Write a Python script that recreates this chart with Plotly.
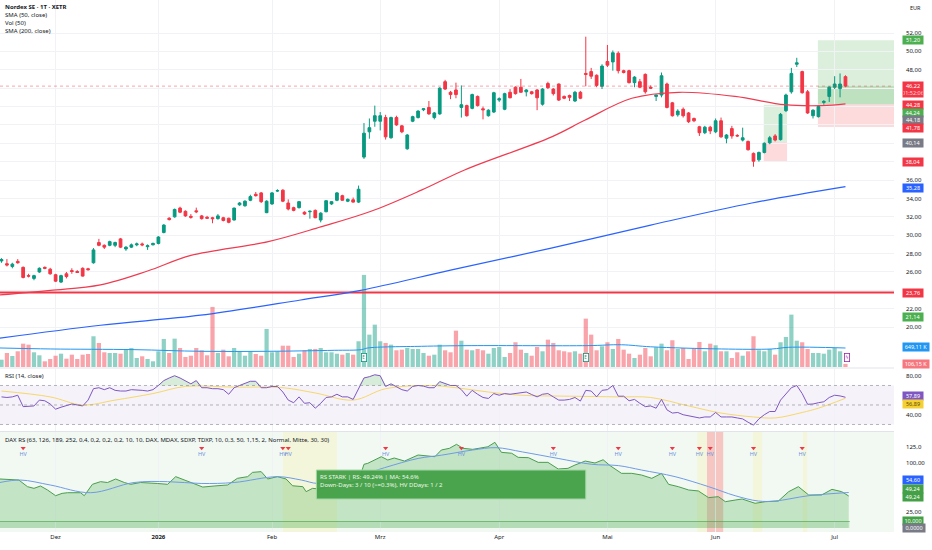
import numpy as np
import pandas as pd
import plotly.graph_objects as go

# ---------------- data ----------------
holidays = ["2025-12-24", "2025-12-25", "2025-12-26", "2025-12-31",
            "2026-01-01", "2026-04-03", "2026-04-06", "2026-05-01"]
dates = [d for d in pd.bdate_range("2025-11-17", "2026-07-03")
         if d.strftime("%Y-%m-%d") not in holidays]

open_ = [27.2, 26.9, 26.6, 27.15, 26.5, 25.6, 25.3, 26.0, 26.5, 26.3,
         25.7, 24.9, 25.8, 26.15, 26.05, 26.4, 26.35, 27.0, 29.2, 28.9,
         28.9, 28.9, 29.6, 28.5, 28.7, 28.95, 29.05, 28.75, 28.95, 29.1,
         30.3, 31.85, 32.0, 32.95, 32.6, 32.05, 32.65, 32.1, 31.95, 31.9,
         31.8, 31.9, 31.85, 31.65, 33.3, 33.2, 33.8, 34.45, 34.6, 32.45,
         33.4, 34.8, 34.9, 33.5, 33.0, 33.0, 32.5, 32.55, 32.7, 31.65,
         32.55, 33.4, 33.8, 34.3, 33.7, 33.85, 33.6, 38.5, 41.25, 42.4,
         42.4, 42.8, 40.6, 42.8, 41.9, 39.4, 42.4, 42.8, 43.65, 43.9,
         42.8, 43.2, 46.7, 45.55, 45.8, 43.9, 44.1, 43.8, 45.1, 43.75,
         43.0, 43.4, 44.7, 43.7, 45.55, 46.1, 46.1, 45.6, 45.6, 45.8,
         44.25, 46.5, 45.9, 46.45, 45.1, 45.2, 44.6, 45.55, 47.6, 47.8,
         47.4, 46.2, 48.9, 48.85, 49.8, 47.9, 47.9, 46.6, 46.7, 47.5,
         46.1, 45.1, 45.25, 46.45, 44.4, 43.1, 43.7, 43.3, 42.7, 41.8,
         41.15, 41.75, 41.25, 42.45, 40.55, 41.6, 40.85, 40.35, 40.2, 38.9,
         38.2, 39.0, 40.05, 40.8, 40.4, 43.55, 45.6, 48.6, 47.8, 45.6,
         43.0, 42.9, 44.45, 45.1, 46.1, 45.95, 47.25]
high = [27.5, 27.4, 27.0, 27.4, 26.6, 25.8, 25.7, 26.5, 26.6, 26.45,
        25.8, 25.7, 26.0, 26.4, 26.2, 26.5, 26.45, 28.6, 29.6, 29.0,
        29.4, 29.3, 29.7, 28.8, 29.1, 29.2, 29.2, 29.0, 29.2, 29.9,
        31.2, 31.95, 32.9, 33.1, 32.7, 32.3, 33.0, 32.2, 32.1, 32.0,
        32.3, 32.0, 31.9, 33.0, 33.6, 33.8, 34.4, 34.7, 34.7, 33.8,
        34.7, 35.0, 35.0, 33.9, 33.1, 33.7, 32.6, 32.7, 32.8, 32.5,
        33.8, 33.7, 34.7, 34.4, 34.0, 34.1, 35.4, 42.2, 42.7, 44.1,
        43.4, 43.1, 42.9, 43.0, 42.0, 41.0, 43.0, 43.6, 43.8, 44.6,
        43.4, 46.1, 46.9, 45.7, 46.6, 46.3, 44.2, 45.4, 45.2, 44.0,
        43.7, 45.6, 45.0, 45.5, 45.9, 46.2, 47.0, 45.9, 45.7, 45.9,
        46.0, 46.7, 46.0, 46.5, 45.2, 45.3, 45.7, 45.7, 51.6, 48.2,
        47.5, 48.6, 50.7, 50.1, 50.0, 48.0, 48.0, 47.3, 47.0, 47.6,
        46.3, 45.3, 47.7, 46.6, 44.5, 43.7, 43.9, 43.4, 42.8, 41.9,
        41.9, 41.9, 42.7, 42.8, 41.0, 41.9, 41.0, 41.7, 40.3, 39.0,
        39.1, 40.1, 40.8, 41.0, 43.3, 45.4, 48.2, 49.3, 47.9, 45.8,
        43.7, 44.1, 44.7, 46.2, 47.3, 47.6, 47.4]
low = [27.0, 26.6, 26.4, 26.9, 25.3, 25.4, 25.1, 25.9, 26.3, 25.7,
       24.9, 24.8, 25.3, 25.8, 25.9, 25.5, 26.15, 26.9, 28.8, 28.5,
       28.8, 28.7, 28.6, 28.3, 28.6, 28.8, 28.8, 28.4, 28.9, 29.0,
       30.2, 31.6, 31.9, 32.4, 32.0, 31.8, 32.4, 31.7, 31.8, 31.3,
       31.7, 31.5, 31.3, 31.6, 33.2, 33.1, 33.7, 34.2, 33.5, 32.4,
       33.3, 34.7, 33.6, 32.7, 32.6, 32.9, 32.2, 31.8, 31.85, 31.4,
       32.5, 33.3, 33.7, 33.75, 33.6, 33.55, 33.5, 38.3, 40.5, 41.8,
       41.4, 40.4, 40.5, 41.9, 41.1, 39.3, 42.3, 42.7, 43.5, 43.1,
       42.6, 43.1, 45.8, 44.8, 44.9, 42.8, 42.9, 43.7, 44.0, 42.6,
       42.9, 43.3, 44.5, 43.6, 44.9, 45.3, 45.5, 45.1, 45.3, 43.6,
       44.1, 45.9, 45.2, 44.6, 44.8, 44.6, 44.5, 44.8, 46.2, 47.0,
       46.1, 45.9, 48.3, 47.9, 47.6, 47.6, 46.5, 46.1, 46.0, 45.4,
       45.9, 44.6, 45.0, 43.8, 42.9, 42.9, 42.8, 42.2, 42.3, 40.8,
       41.0, 41.0, 41.1, 40.6, 40.0, 40.5, 40.7, 40.2, 39.2, 37.45,
       38.0, 38.9, 39.9, 40.2, 40.3, 43.4, 45.4, 48.3, 45.4, 43.2,
       42.7, 42.8, 44.2, 44.5, 45.9, 45.0, 46.1]
close = [27.35, 26.75, 26.85, 27.0, 25.4, 25.55, 25.6, 26.4, 26.4, 25.8,
         25.0, 25.6, 25.5, 26.05, 25.95, 25.55, 26.25, 28.4, 28.9, 28.7,
         29.3, 29.2, 28.7, 28.7, 28.95, 29.05, 28.95, 28.85, 29.1, 29.8,
         31.1, 31.7, 32.8, 32.5, 32.1, 31.95, 32.55, 31.8, 31.85, 31.8,
         32.1, 31.6, 31.4, 32.95, 33.5, 33.7, 34.2, 34.3, 33.65, 33.7,
         34.6, 34.85, 33.7, 32.85, 32.7, 33.65, 32.3, 32.6, 31.9, 32.4,
         33.75, 33.65, 34.6, 33.8, 33.9, 33.6, 35.0, 41.1, 41.7, 43.0,
         43.0, 40.7, 42.8, 42.0, 41.25, 40.9, 42.9, 43.5, 43.75, 43.2,
         43.3, 46.0, 45.9, 45.3, 45.3, 44.2, 43.0, 45.3, 44.1, 43.65,
         43.6, 45.5, 44.85, 45.4, 44.95, 45.4, 45.55, 45.8, 45.4, 44.95,
         45.9, 46.05, 45.4, 44.7, 44.9, 45.0, 45.55, 44.9, 47.5, 47.3,
         46.3, 48.4, 48.5, 49.85, 47.9, 47.7, 46.6, 47.2, 46.1, 45.6,
         46.0, 45.25, 47.35, 43.9, 43.0, 43.5, 43.0, 42.35, 42.45, 41.15,
         41.75, 41.35, 42.45, 40.7, 40.9, 40.8, 40.8, 40.6, 39.3, 38.05,
         39.0, 40.0, 40.6, 40.35, 43.15, 45.25, 47.6, 48.75, 45.5, 43.3,
         43.6, 44.0, 44.55, 46.1, 46.45, 46.45, 46.22]
volume_k = [250, 479, 376, 537, 797, 763, 503, 400, 195, 274,
            386, 455, 284, 421, 274, 421, 445, 1050, 821, 503,
            479, 479, 455, 592, 650, 308, 366, 274, 195, 537,
            958, 479, 968, 650, 342, 386, 650, 571, 400, 2052,
            479, 592, 366, 650, 537, 386, 537, 445, 386, 1300,
            503, 537, 728, 728, 342, 455, 571, 616, 616, 650,
            503, 503, 455, 421, 479, 421, 879, 3146, 1105, 1447,
            879, 821, 763, 571, 592, 650, 616, 616, 479, 386,
            421, 763, 571, 503, 1241, 899, 592, 571, 616, 571,
            455, 650, 684, 342, 479, 845, 592, 479, 386, 684,
            537, 934, 821, 571, 537, 503, 537, 455, 1652, 1105,
            571, 708, 845, 616, 958, 592, 455, 308, 421, 650,
            366, 674, 797, 571, 913, 616, 650, 274, 650, 855,
            537, 797, 742, 537, 537, 308, 503, 386, 537, 1050,
            571, 537, 616, 421, 845, 1026, 1789, 899, 845, 616,
            479, 479, 455, 592, 650, 537, 106.15]
rsi = [58.3, 57.7, 58.3, 60, 48.3, 49, 49, 55, 54.3, 51,
       45.7, 47.7, 49, 51, 50, 49, 55, 66.7, 67.7, 65.7,
       67.7, 65, 64.3, 64.3, 65.7, 65.7, 65, 64.3, 65.7, 70,
       75, 77.7, 80, 77.7, 75, 71.7, 75, 67.7, 67.7, 66.7,
       66.7, 65.7, 61, 67.7, 70, 72.3, 74.3, 74.3, 67.7, 67.7,
       69, 69, 63.3, 55, 52.3, 58.3, 51.7, 52.3, 46.7, 51.7,
       57.7, 58.3, 61, 58.3, 58.3, 55.7, 66.7, 77.7, 79, 81,
       80, 69, 71.7, 69, 65.7, 64.3, 69, 70, 69.3, 67.7,
       67.7, 74, 72.3, 70, 70, 65.7, 59, 65, 61, 57.7,
       56.7, 61.7, 60, 61.7, 61, 61.7, 62.3, 63.3, 60.7, 58.3,
       61, 61.7, 58.3, 55, 55, 55.7, 57.7, 54, 65, 64.3,
       58.3, 65, 65.7, 70, 59, 59, 54.3, 55.7, 51.7, 48.3,
       49, 46.7, 55.7, 45, 41.7, 42.3, 40, 39, 38.3, 36.7,
       37.7, 37.7, 42.3, 37.7, 37.7, 37.7, 36.7, 35.7, 32.3, 29.3,
       35.7, 40, 43.3, 43.3, 55, 61.7, 67.7, 70, 61.7, 50.7,
       51, 52.3, 53.3, 57.7, 60, 59.3, 57.89]

rsi_ma_idx = [0, 9, 15, 21, 28, 34, 43, 52, 58, 65, 71, 79, 84, 90, 96,
              105, 114, 120, 127, 133, 139, 143, 148, 151, 156]
rsi_ma_val = [64.3, 58.3, 50, 55, 61.7, 69, 68.3, 67.7, 62.3, 55, 66.7, 70,
              67.7, 63.3, 60, 59, 58.3, 57.7, 49, 41.7, 37.7, 36.7, 42.3, 46.7, 56.89]

sma50_idx = [-0.3, 9, 18.3, 27, 35, 49.3, 59, 68.3, 77.6, 85.6, 101.7, 107.8,
             116.5, 125.2, 135.6, 144.8, 151.7, 156]
sma50_val = [23.5, 24.0, 24.6, 26.1, 27.8, 29.3, 30.9, 32.6, 34.9, 37.1, 40.7,
             42.5, 44.9, 45.55, 45.1, 44.2, 44.1, 44.28]
sma200_idx = [-0.3, 18.3, 36.8, 55.3, 66.4, 83, 101.6, 120, 138.7, 156]
sma200_val = [18.8, 20.2, 21.3, 22.95, 24.0, 26.2, 28.6, 31.1, 33.5, 35.28]
volma_idx = [-0.3, 9.1, 24.5, 36.9, 49.2, 61.5, 66.5, 67.7, 77.6, 86.8,
             108.4, 114.6, 120, 133.1, 142.4, 145.5, 156]
volma_val = [650, 616, 593, 536, 536, 570, 593, 650, 707, 730,
             730, 760, 690, 616, 616, 673, 649.11]

rs_idx = [-0.3, 2.3, 3.2, 4.8, 6, 7.2, 8.5, 10, 11.2, 12.2, 14.6, 15.3, 16.8,
          18.3, 19.6, 21.1, 22.7, 23.9, 25.7, 28.8, 30.7, 32.2, 33.8, 35.6, 37.2,
          39.3, 41.8, 43.6, 45.5, 46.4, 48, 49.2, 51, 52.6, 53.8, 55.7, 56.3,
          57.5, 58.8, 62, 66, 67, 67.7, 70.2, 71.4, 72.6, 74.5, 77, 80.1, 81.3,
          82.8, 84.1, 85.3, 87.1, 89.9, 91.2, 92.4, 94.3, 95.5, 97.4, 99.2, 101,
          102.9, 104.7, 106, 107.9, 109.7, 111.2, 112.5, 114.6, 116.5, 118.3,
          120.2, 122, 123.3, 125.1, 127, 128.8, 130.7, 132.5, 133.8, 135.6,
          136.9, 139.3, 141.2, 143.6, 145.5, 147.3, 149.2, 151.6, 153.5, 155.3, 156.6]
rs_val = [75.4, 73.8, 73.8, 63.6, 61, 64.6, 58.5, 49.7, 53.3, 54.3, 54.3, 49.7,
          67.2, 71.3, 70, 75.4, 70, 67.2, 70, 68.5, 67.2, 79, 73.8, 67.2, 63,
          64.6, 66.2, 76.4, 79, 85.6, 86.7, 75.4, 79, 75.4, 65, 63.6, 55.9,
          61, 60, 66, 72, 98, 99.5, 109.7, 104.6, 107.7, 103, 112.3, 109.7,
          120, 122.6, 128.7, 122.6, 121, 125, 131.8, 116.4, 115, 108.7, 108.2,
          101, 101, 90.8, 91.8, 96.9, 103, 100, 105, 95.9, 84.1, 84.1, 81.5,
          76.4, 84, 67.2, 63.6, 58.5, 57, 46.7, 48.2, 40.5, 43, 44.6, 38,
          40.5, 41.5, 55.9, 63.6, 50.8, 50.8, 59.5, 55.9, 49.24]
rsma_idx = [-0.3, 3.5, 9.1, 16.5, 24.5, 30.7, 36.9, 43, 51, 55.4, 58.5, 64,
            70.8, 77, 81.3, 87.1, 91.4, 96.3, 102.9, 109.1, 114, 118.3, 124.5,
            130.7, 135.6, 139.9, 143, 149.2, 156.6]
rsma_val = [70, 73.8, 66, 54.3, 70, 71.3, 68.5, 70, 79, 73.8, 68.5, 75,
            92.8, 107, 112, 120, 123.6, 117, 107, 98, 96, 89.2, 79,
            63.6, 49.7, 41.5, 41.5, 49.7, 54.6]

hv_idx = [4, 37, 52, 53, 71, 85, 102, 114, 124, 129, 131, 139, 148]
yellow_bands = [(52, 62), (128.6, 130.4), (138.9, 140.6), (148.1, 148.9)]
red_bands = [(130.4, 133.4)]

month_labels = ["Dez", "<b>2026</b>", "Feb", "Mrz", "Apr", "Mai", "Jun", "Jul"]
price_ticks = [20, 22, 24, 26, 28, 30, 32, 34, 36, 38, 40, 42, 44, 46, 48, 50, 52]
hidden_price_ticks = [24, 38, 40, 42, 44, 46]
rsi_ticks = [80, 40]
rs_ticks = [125, 100, 25]
rs_tick_text = ["125,0", "100,00", "25,00"]

hline_level = 23.76
trade_start = [140.9, 150.9]
trade_end = [145.2, 165.0]
trade_entry = [40.14, 44.24]
trade_target = [44.18, 51.20]
trade_stop = [38.04, 41.78]
level_21 = 21.14
rs_value, rs_ma_value = 49.24, 54.6

# ---------------- layout helpers ----------------
W, H = 932, 550
MR, MB = 38, 18
PH = H - MB


def py(px):
    return 1 - px / PH


def fmt(v, nd=2):
    return f"{v:.{nd}f}".replace(".", ",")


UP, DN = "#089981", "#f23645"
TXT = "#131722"
FONT = "Noto Sans"
GRID = "#f0f2f6"
n = len(dates)
x = list(range(n))
month_pos = [i for i in range(1, n) if dates[i].month != dates[i - 1].month]

X_LO, X_HI = -0.28, 164.97
P_LO, P_HI = 15.66, 55.59
V_HI = 367 * 34.16
R_LO, R_HI = 23.3, 86.9
S_LO, S_HI = -6.15, 147.7

fig = go.Figure()

# volume (base axis y)
vcol = ["rgba(8,153,129,0.45)" if c >= o else "rgba(242,54,69,0.45)" for o, c in zip(open_, close)]
fig.add_trace(go.Bar(x=x, y=volume_k, marker_color=vcol, marker_line_width=0, width=0.78,
                     xaxis="x", yaxis="y", hoverinfo="skip"))
fig.add_trace(go.Scatter(x=volma_idx, y=volma_val, mode="lines", line=dict(color="#2196f3", width=1, shape="spline"),
                         xaxis="x", yaxis="y", hoverinfo="skip"))

# price on y2
fig.add_trace(go.Scatter(x=[X_LO, X_HI], y=[hline_level, hline_level], mode="lines",
                         line=dict(color="#f23645", width=2), xaxis="x", yaxis="y2", hoverinfo="skip"))
fig.add_trace(go.Scatter(x=sma200_idx, y=sma200_val, mode="lines", line=dict(color="#2962ff", width=1.2, shape="spline"),
                         xaxis="x", yaxis="y2", hoverinfo="skip"))
fig.add_trace(go.Scatter(x=sma50_idx, y=sma50_val, mode="lines", line=dict(color="#ef3b50", width=1.2, shape="spline"),
                         xaxis="x", yaxis="y2", hoverinfo="skip"))
fig.add_trace(go.Candlestick(x=x, open=open_, high=high, low=low, close=close,
                             increasing=dict(line=dict(color=UP, width=1), fillcolor=UP),
                             decreasing=dict(line=dict(color=DN, width=1), fillcolor=DN),
                             whiskerwidth=0, xaxis="x", yaxis="y2", hoverinfo="skip"))

# RSI on y3
rsi_arr = np.array(rsi)
fig.add_trace(go.Scatter(x=x, y=[70] * n, mode="lines", line=dict(width=0), xaxis="x", yaxis="y3", hoverinfo="skip"))
fig.add_trace(go.Scatter(x=x, y=np.maximum(rsi_arr, 70), mode="lines", line=dict(width=0), fill="tonexty",
                         fillcolor="rgba(76,175,80,0.22)", xaxis="x", yaxis="y3", hoverinfo="skip"))
fig.add_trace(go.Scatter(x=x, y=[30] * n, mode="lines", line=dict(width=0), xaxis="x", yaxis="y3", hoverinfo="skip"))
fig.add_trace(go.Scatter(x=x, y=np.minimum(rsi_arr, 30), mode="lines", line=dict(width=0), fill="tonexty",
                         fillcolor="rgba(242,54,69,0.22)", xaxis="x", yaxis="y3", hoverinfo="skip"))
fig.add_trace(go.Scatter(x=rsi_ma_idx, y=rsi_ma_val, mode="lines", line=dict(color="#f5d86a", width=1, shape="spline"),
                         xaxis="x", yaxis="y3", hoverinfo="skip"))
fig.add_trace(go.Scatter(x=x, y=rsi, mode="lines", line=dict(color="#7e57c2", width=1),
                         xaxis="x", yaxis="y3", hoverinfo="skip"))

# RS on y4
fig.add_trace(go.Scatter(x=rs_idx, y=rs_val, mode="lines", fill="tozeroy", fillcolor="rgba(76,175,80,0.28)",
                         line=dict(color="#4a9d4f", width=1), xaxis="x", yaxis="y4", hoverinfo="skip"))
fig.add_trace(go.Scatter(x=rsma_idx, y=rsma_val, mode="lines", line=dict(color="#6f9be6", width=1, shape="spline"),
                         xaxis="x", yaxis="y4", hoverinfo="skip"))
fig.add_trace(go.Scatter(x=hv_idx, y=[123] * len(hv_idx), mode="markers",
                         marker=dict(symbol="triangle-down", size=4.5, color="#f23645"),
                         xaxis="x", yaxis="y4", hoverinfo="skip"))
fig.add_trace(go.Scatter(x=hv_idx, y=[113.5] * len(hv_idx), mode="text", text=["HV"] * len(hv_idx),
                         textfont=dict(size=5.5, color="#6b8fe0", family=FONT),
                         xaxis="x", yaxis="y4", hoverinfo="skip"))

shapes = []
# RS pane background and bands
shapes.append(dict(type="rect", xref="x", yref="y4", x0=X_LO, x1=X_HI, y0=S_LO, y1=S_HI,
                   fillcolor="rgba(76,175,80,0.07)", line_width=0, layer="below"))
shapes.append(dict(type="rect", xref="x", yref="y4", x0=X_LO, x1=156.8, y0=0, y1=10,
                   fillcolor="rgba(76,175,80,0.12)", line_width=0, layer="below"))
for a, b in yellow_bands:
    shapes.append(dict(type="rect", xref="x", yref="y4", x0=a, x1=b, y0=S_LO, y1=S_HI,
                       fillcolor="rgba(255,235,59,0.13)", line_width=0, layer="below"))
for a, b in red_bands:
    shapes.append(dict(type="rect", xref="x", yref="y4", x0=a, x1=b, y0=S_LO, y1=S_HI,
                       fillcolor="rgba(255,82,82,0.3)", line_width=0, layer="below"))
shapes.append(dict(type="line", xref="x", yref="y4", x0=X_LO, x1=156.8, y0=10, y1=10,
                   line=dict(color="rgba(67,160,71,0.6)", width=1)))
# RSI band and dashed levels
shapes.append(dict(type="rect", xref="x", yref="y3", x0=X_LO, x1=X_HI, y0=30, y1=70,
                   fillcolor="rgba(126,87,194,0.08)", line_width=0, layer="below"))
for lv in (70, 50, 30):
    shapes.append(dict(type="line", xref="x", yref="y3", x0=X_LO, x1=X_HI, y0=lv, y1=lv,
                       line=dict(color="rgba(120,123,134,0.55)", width=1, dash="dot")))
# position boxes
for i in range(2):
    shapes.append(dict(type="rect", xref="x", yref="y2", x0=trade_start[i], x1=trade_end[i],
                       y0=trade_entry[i], y1=trade_target[i], fillcolor="rgba(76,175,80,0.2)",
                       line_width=0, layer="below"))
    shapes.append(dict(type="rect", xref="x", yref="y2", x0=trade_start[i], x1=trade_end[i],
                       y0=trade_stop[i], y1=trade_entry[i], fillcolor="rgba(242,54,69,0.18)",
                       line_width=0, layer="below"))
shapes.append(dict(type="rect", xref="x", yref="y2", x0=trade_start[1], x1=trade_end[1],
                   y0=trade_entry[1], y1=close[-1], fillcolor="rgba(76,175,80,0.2)",
                   line_width=0, layer="below"))
# current price dotted line
shapes.append(dict(type="line", xref="x", yref="y2", x0=X_LO, x1=X_HI, y0=close[-1], y1=close[-1],
                   line=dict(color="rgba(242,54,69,0.45)", width=1, dash="dot")))
# pane separators
for px in (368, 431.5):
    shapes.append(dict(type="line", xref="paper", yref="paper", x0=0, x1=1, y0=py(px), y1=py(px),
                       line=dict(color="#e0e3eb", width=1)))
# RS STARK box
shapes.append(dict(type="rect", xref="x", yref="y4", x0=58.2, x1=108.0, y0=44.6, y1=89.2,
                   fillcolor="rgba(67,160,71,0.95)", line=dict(color="#a5d6a7", width=1)))

ann = []


def txt(s, xp, ypx, size=6, color=TXT, **kw):
    ann.append(dict(text=s, xref="paper", yref="paper", x=xp, y=py(ypx), xanchor="left",
                    yanchor="middle", showarrow=False, font=dict(size=size, color=color, family=FONT), **kw))


txt("<b>Nordex SE · 1T · XETR</b>", 0.003, 7.3)
txt("SMA (50, close)", 0.003, 15)
txt("Vol (50)", 0.003, 22.7)
txt("SMA (200, close)", 0.003, 30.7)
txt("RSI (14, close)", 0.003, 376)
txt("DAX RS (63, 126, 189, 252, 0,4, 0,2, 0,2, 0,2, 10, 10, DAX, MDAX, SDXP, TDXP, 10, 0,3, 50, 1,15, 2, Normal, Mitte, 30, 30)",
    0.003, 440)
ann.append(dict(text=f"RS STARK | RS: {rs_value:.2f}% | MA: {rs_ma_value:.1f}%<br>Down-Days: 3 / 10 (>=0.3%), HV DDays: 1 / 2",
                xref="x", yref="y4", x=58.5, y=72, xanchor="left", yanchor="middle", align="left",
                showarrow=False, font=dict(size=6, color="#f1f8e9", family=FONT)))
ann.append(dict(text="EUR", xref="paper", yref="paper", x=1, xshift=14, y=py(7.5), xanchor="left",
                yanchor="middle", showarrow=False, font=dict(size=5.5, color=TXT, family=FONT)))

# icons on volume
for ix in (67, 108):
    ann.append(dict(text="E", xref="x", yref="paper", x=ix, y=py(361.5), showarrow=False,
                    font=dict(size=4.5, color=UP, family=FONT), bgcolor="white",
                    bordercolor=UP, borderwidth=0.8, borderpad=0.5))
ann.append(dict(text="ϟ", xref="x", yref="paper", x=156.3, y=py(361.5), showarrow=False,
                font=dict(size=5, color="#9c27b0", family="DejaVu Sans"), bgcolor="white",
                bordercolor="#9c27b0", borderwidth=0.8, borderpad=0.5))


def label(s, axis, val, bg, fg="white", shift=0, width=19):
    ann.append(dict(text=s, xref="paper", yref=axis, x=1, xshift=8, y=val, yshift=shift,
                    xanchor="left", yanchor="middle", showarrow=False, bgcolor=bg, width=width,
                    height=7, borderpad=0.5, align="center",
                    font=dict(size=5.5, color=fg, family=FONT)))


label(fmt(trade_target[1]), "y2", trade_target[1], "#4caf50")
ann.append(dict(text=f"{fmt(close[-1])}<br><span style='color:#ffd6da'>01:52:06</span>", xref="paper",
                yref="y2", x=1, xshift=8, y=close[-1], yshift=-3.5, xanchor="left", yanchor="middle",
                showarrow=False, bgcolor="#f23645", width=19, height=14, borderpad=0.5,
                font=dict(size=5.5, color="white", family=FONT)))
label(fmt(sma50_val[-1]), "y2", sma50_val[-1], "#f23645", shift=-1)
label(fmt(trade_entry[1]), "y2", trade_entry[1], "#4caf50", shift=-8.5)
label(fmt(trade_target[0]), "y2", trade_target[0], "#787b86", shift=-15.5)
label(fmt(trade_stop[1]), "y2", trade_stop[1], "#f23645", shift=-1)
label(fmt(trade_entry[0]), "y2", trade_entry[0], "#787b86", shift=-1)
label(fmt(trade_stop[0]), "y2", trade_stop[0], "#f23645", shift=-1)
label(fmt(sma200_val[-1]), "y2", sma200_val[-1], "#2962ff", shift=-1)
label(fmt(hline_level), "y2", hline_level, "#f23645")
label(fmt(level_21), "y2", level_21, "#4caf50")
label(fmt(volma_val[-1]) + " K", "y", volma_val[-1], "#2196f3", shift=1, width=25)
label(fmt(volume_k[-1]) + " K", "y", volume_k[-1], "#f7777f", shift=0, width=25)
label(fmt(rsi[-1]), "y3", rsi[-1], "#7e57c2", shift=1)
label(fmt(rsi_ma_val[-1]), "y3", rsi_ma_val[-1], "#f5d033", fg="#5d4c00", shift=-5.5)
label(fmt(rs_ma_value), "y4", rs_ma_value, "#2962ff", shift=12.5)
label(fmt(rs_value), "y4", rs_value, "#43a047", shift=7.5)
label(fmt(rs_value), "y4", rs_value, "#43a047", shift=-1)
label("10,000", "y4", 10, "#43a047", shift=1)
label("0,0000", "y4", 0, "#787b86", shift=0.5, width=21)

price_tick_text = ["" if v in hidden_price_ticks else fmt(v) for v in price_ticks]

axis_font = dict(size=6, color=TXT, family=FONT)
fig.update_layout(
    width=W, height=H, margin=dict(l=0, r=MR, t=0, b=MB),
    paper_bgcolor="white", plot_bgcolor="white", showlegend=False,
    boxgap=0.28, bargap=0.2,
    xaxis=dict(range=[X_LO, X_HI], tickvals=month_pos, ticktext=month_labels, showgrid=True,
               gridcolor=GRID, zeroline=False, showline=False, ticks="", tickfont=axis_font,
               anchor="y4", rangeslider=dict(visible=False), fixedrange=True),
    yaxis=dict(domain=[py(367), 1], range=[0, V_HI], visible=False, showgrid=False, fixedrange=True),
    yaxis2=dict(overlaying="y", side="right", anchor="x", range=[P_LO, P_HI], tickvals=price_ticks,
                ticktext=price_tick_text, showgrid=True, gridcolor=GRID, zeroline=False,
                ticks="", tickfont=axis_font, ticklabelstandoff=11),
    yaxis3=dict(domain=[py(431), py(369)], side="right", anchor="x", range=[R_LO, R_HI],
                tickvals=rsi_ticks, ticktext=[fmt(v) for v in rsi_ticks], showgrid=False,
                zeroline=False, ticks="", tickfont=axis_font, ticklabelstandoff=11),
    yaxis4=dict(domain=[0, py(432)], side="right", anchor="x", range=[S_LO, S_HI],
                tickvals=rs_ticks, ticktext=rs_tick_text, showgrid=False, zeroline=False,
                ticks="", tickfont=axis_font, ticklabelstandoff=11),
    shapes=shapes, annotations=ann,
)
fig.write_html("out.html", config={"displayModeBar": False},
               post_script="document.body.style.margin='0';document.body.style.overflow='hidden';")
